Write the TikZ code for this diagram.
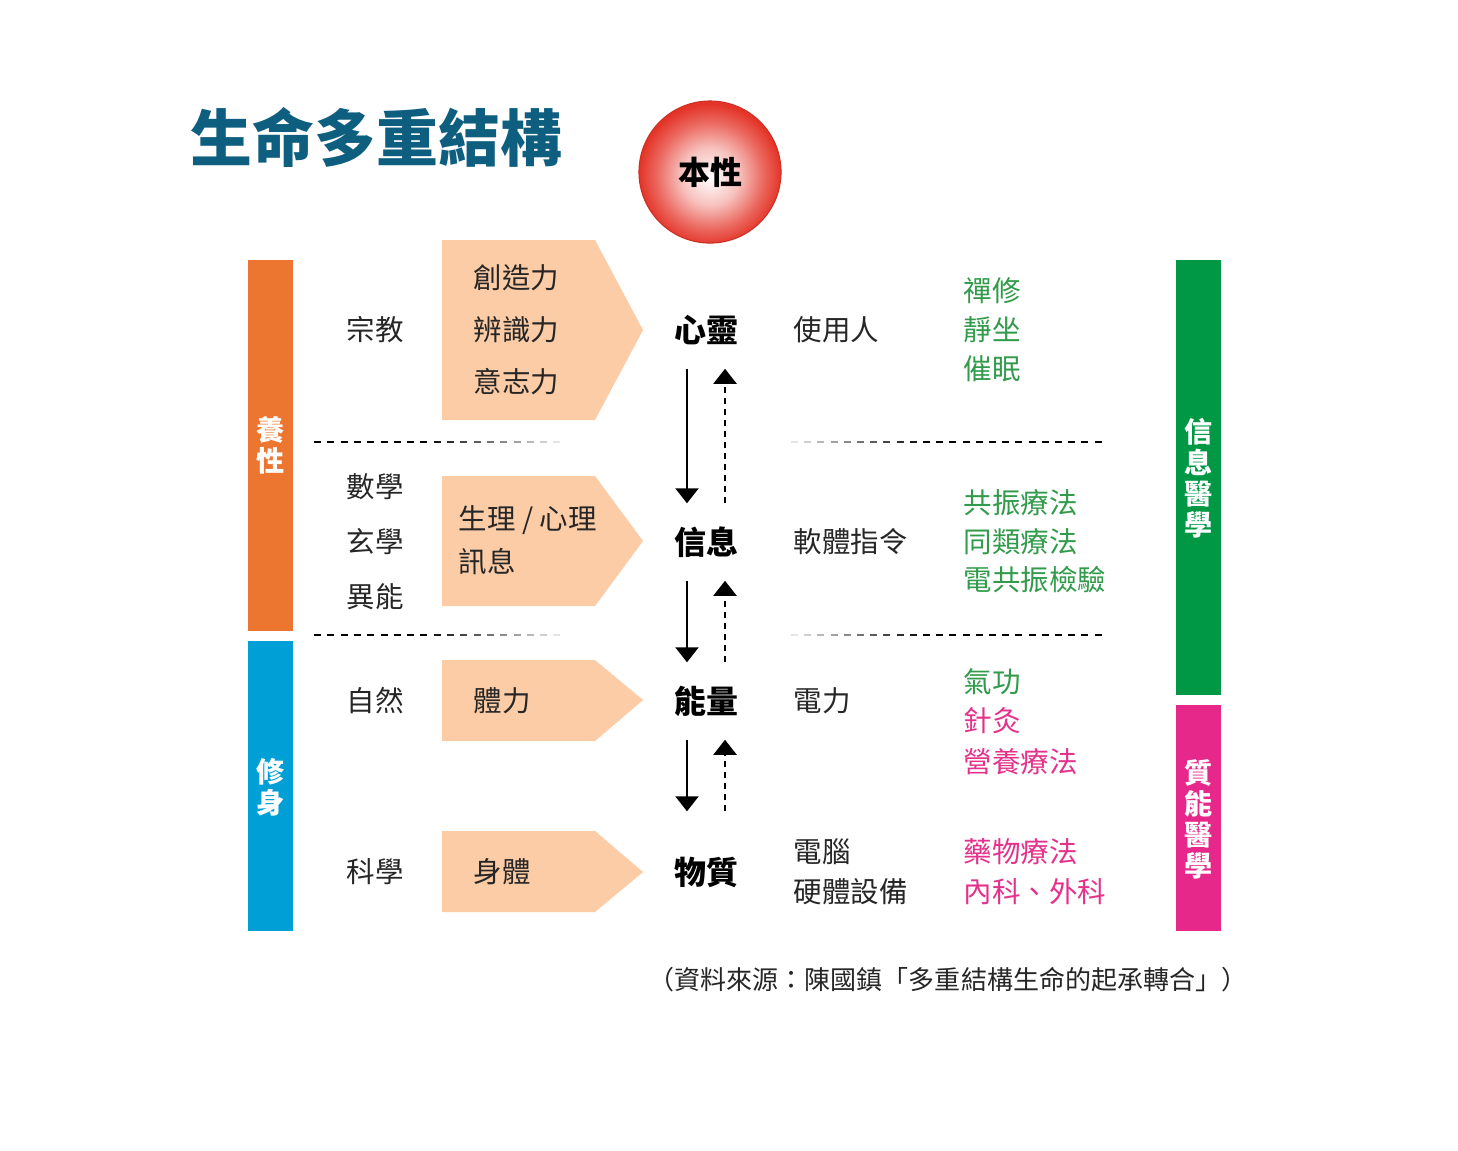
\documentclass[tikz,border=0pt]{standalone}
\usepackage{fontspec}
\setmainfont{Noto Sans CJK TC}
\usetikzlibrary{arrows.meta}

\definecolor{titleblue}{RGB}{14,94,128}
\definecolor{orangebar}{RGB}{236,117,48}
\definecolor{bluebar}{RGB}{0,160,214}
\definecolor{greenbar}{RGB}{0,152,68}
\definecolor{pinkbar}{RGB}{230,40,138}
\definecolor{greentext}{RGB}{50,155,75}
\definecolor{pinktext}{RGB}{228,50,140}
\definecolor{peach}{RGB}{252,204,166}
\definecolor{orbred}{RGB}{228,52,40}

\pgfdeclareradialshading{orb}{\pgfpoint{0bp}{-2bp}}{color(0bp)=(white); color(10bp)=(orbred!30!white); color(19bp)=(orbred!75!white); color(25bp)=(orbred); color(50bp)=(orbred)}

\begin{document}
\begin{tikzpicture}[
        x=0.01cm, y=-0.01cm,
        every node/.style={inner sep=0pt},
        txt/.style={anchor=west, black!85, font=\fontsize{8.1}{9}\selectfont},
        grntxt/.style={txt, greentext},
        pnktxt/.style={txt, pinktext},
        level/.style={font=\bfseries\fontsize{9.1}{10}\selectfont, minimum height=0.76cm},
        bar/.style={white, align=center, font=\bfseries\fontsize{8}{8.8}\selectfont},
        down/.style={line width=0.6pt, -{Triangle[length=0.15cm,width=0.23cm]}},
        up/.style={line width=0.6pt, dash pattern=on 0.065cm off 0.045cm, -{Triangle[length=0.15cm,width=0.23cm]}}
    ]
    \useasboundingbox[fill=white] (0,0) rectangle (1458,1150);

    % Titel
    \node[anchor=west, titleblue, font=\bfseries\fontsize{17.6}{20}\selectfont] (title) at (190,137) {生命多重結構};
    \node[circle, minimum size=1.42cm, shading=orb, draw=orbred!90!black, line width=0.3pt,
          font=\bfseries\fontsize{9.1}{10}\selectfont] (nature) at (710,172) {本性};

    % Balken links
    \fill[orangebar] (248,260) rectangle (293,631);
    \node[bar] (yang) at (270.5,445.5) {養\\性};
    \fill[bluebar] (248,641) rectangle (293,931);
    \node[bar] (xiu) at (270.5,787) {修\\身};

    % Balken rechts
    \fill[greenbar] (1176,260) rectangle (1221,695);
    \node[bar] (infomed) at (1198.5,478) {信\\息\\醫\\學};
    \fill[pinkbar] (1176,705) rectangle (1221,931);
    \node[bar] (mattermed) at (1198.5,819) {質\\能\\醫\\學};

    % Pfeilformen
    \fill[peach] (442,240) -- (595,240) -- (643,330) -- (595,420) -- (442,420) -- cycle;
    \fill[peach] (442,476) -- (595,476) -- (643,541) -- (595,606) -- (442,606) -- cycle;
    \fill[peach] (442,660) -- (595,660) -- (643,700) -- (595,741) -- (442,741) -- cycle;
    \fill[peach] (442,831) -- (595,831) -- (643,872) -- (595,912) -- (442,912) -- cycle;

    % Trennlinien
    \foreach \i in {0,...,18} {
        \pgfmathtruncatemacro\c{min(100,100-(\i-8)*9)}
        \draw[black!\c, line width=0.6pt] (314+13.3*\i,442) -- ++(7,0);
        \draw[black!\c, line width=0.6pt] (314+13.3*\i,635) -- ++(7,0);
    }
    \foreach \i in {0,...,23} {
        \pgfmathtruncatemacro\c{min(100,10+\i*9)}
        \draw[black!\c, line width=0.6pt] (791+13.2*\i,442) -- ++(7,0);
        \draw[black!\c, line width=0.6pt] (791+13.2*\i,635) -- ++(7,0);
    }

    % Wege
    \node[txt] (religion) at (346,330) {宗教};
    \node[txt] (math) at (346,487) {數學};
    \node[txt] (mystic) at (346,542) {玄學};
    \node[txt] (psychic) at (346,597) {異能};
    \node[txt] (naturepath) at (346,701) {自然};
    \node[txt] (science) at (346,872) {科學};

    % Inhalte der Pfeile
    \node[txt] (create) at (473,278) {創造力};
    \node[txt] (discern) at (473,330) {辨識力};
    \node[txt] (will) at (473,382) {意志力};
    \node[txt] (signal) at (458,520) {生理 / 心理};
    \node[txt] (message) at (458,562) {訊息};
    \node[txt] (strength) at (473,701) {體力};
    \node[txt] (body) at (473,872) {身體};

    % Ebenen
    \node[level] (mind) at (706,330) {心靈};
    \node[level] (info) at (706,542) {信息};
    \node[level] (energy) at (706,701) {能量};
    \node[level] (matter) at (706,872) {物質};

    \draw[down] ([xshift=-0.19cm]mind.south) -- ([xshift=-0.19cm]info.north);
    \draw[up] ([xshift=0.19cm]info.north) -- ([xshift=0.19cm]mind.south);
    \draw[down] ([xshift=-0.19cm]info.south) -- ([xshift=-0.19cm]energy.north);
    \draw[up] ([xshift=0.19cm]energy.north) -- ([xshift=0.19cm]info.south);
    \draw[down, shorten >=0.22cm] ([xshift=-0.19cm]energy.south) -- ([xshift=-0.19cm]matter.north);
    \draw[up, shorten <=0.22cm] ([xshift=0.19cm]matter.north) -- ([xshift=0.19cm]energy.south);

    % Vergleich
    \node[txt] (user) at (793,330) {使用人};
    \node[txt] (software) at (793,542) {軟體指令};
    \node[txt] (power) at (793,701) {電力};
    \node[txt] (computer) at (793,852) {電腦};
    \node[txt] (hardware) at (793,892) {硬體設備};

    % Heilmethoden
    \node[grntxt] (zen) at (963,291) {禪修};
    \node[grntxt] (sit) at (963,330) {靜坐};
    \node[grntxt] (hypno) at (963,369) {催眠};
    \node[grntxt] (reso) at (963,503) {共振療法};
    \node[grntxt] (homeo) at (963,542) {同類療法};
    \node[grntxt] (eav) at (963,580) {電共振檢驗};
    \node[grntxt] (qigong) at (963,682) {氣功};
    \node[pnktxt] (acu) at (963,721) {針灸};
    \node[pnktxt] (diet) at (963,762) {營養療法};
    \node[pnktxt] (drug) at (963,852) {藥物療法};
    \node[pnktxt] (surgery) at (963,892) {內科、外科};

    % Quelle
    \node[black!85, font=\fontsize{7.4}{8}\selectfont] (source) at (948,980) {（資料來源：陳國鎮「多重結構生命的起承轉合」）};
\end{tikzpicture}
\end{document}
